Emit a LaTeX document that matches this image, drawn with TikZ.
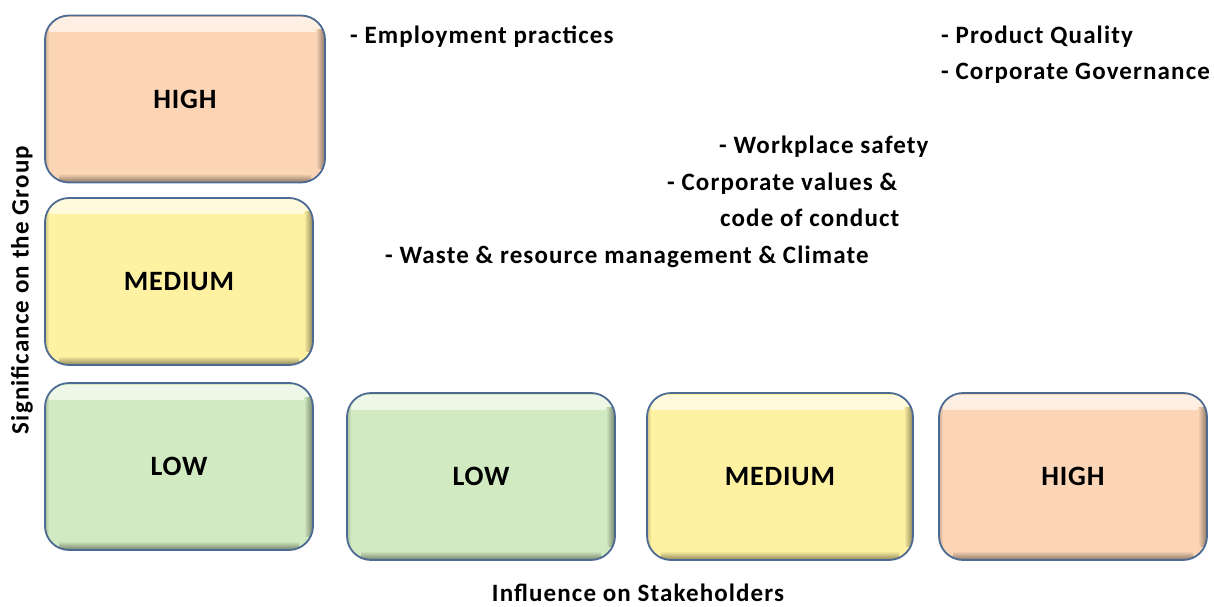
\documentclass[tikz,border=0pt]{standalone}
\usepackage{fontspec}
\setmainfont{Carlito}
\newfontfamily\itemfont{Carlito}[LetterSpace=4.5]
\newfontfamily\labfont{Carlito}[LetterSpace=3]
\definecolor{peach}{HTML}{FBD5B5}
\definecolor{yel}{HTML}{FEF1A2}
\definecolor{grn}{HTML}{D1EAC1}
\definecolor{bordercol}{HTML}{4C6A92}
\tikzset{
  mbox/.style={draw=bordercol, line width=1.8pt, fill=#1, rounded corners=24pt,
    minimum height=167pt, inner sep=0pt,
    font=\labfont\fontsize{28}{32}\selectfont\bfseries,
    path picture={
      \shade[sharp corners, top color=#1!35!white, bottom color=#1]
        ([yshift=-2pt]path picture bounding box.north west) rectangle ([yshift=-16pt]path picture bounding box.north east);
      \shade[sharp corners, left color=#1, right color=#1!55!black]
        ([xshift=-9pt,yshift=-14pt]path picture bounding box.north east) rectangle ([yshift=14pt]path picture bounding box.south east);
      \shade[sharp corners, top color=#1, bottom color=#1!55!black]
        ([yshift=9pt,xshift=14pt]path picture bounding box.south west) rectangle ([xshift=-14pt]path picture bounding box.south east);
      \shade[sharp corners, right color=#1, left color=#1!80!black]
        ([xshift=4pt,yshift=-14pt]path picture bounding box.north west) rectangle ([yshift=14pt]path picture bounding box.south west);
    }},
  item/.style={anchor=base west, inner sep=0pt, font=\itemfont\fontsize{25}{29}\selectfont\bfseries},
  axis/.style={inner sep=0pt, font=\itemfont\fontsize{25}{29}\selectfont\bfseries}
}
\begin{document}
\begin{tikzpicture}[x=1pt,y=1pt]
\useasboundingbox (0,0) rectangle (1214,606);
% left column
\node[mbox=peach, minimum width=280pt] (lh) at (185,507) {HIGH};
\node[mbox=yel, minimum width=268pt] (lm) at (179,324.5) {MEDIUM};
\node[mbox=grn, minimum width=268pt] (ll) at (179,139.5) {LOW};
% bottom row
\node[mbox=grn, minimum width=268pt] (bl) at (481,129.5) {LOW};
\node[mbox=yel, minimum width=266pt] (bm) at (780,129.5) {MEDIUM};
\node[mbox=peach, minimum width=268pt] (bh) at (1073,129.5) {HIGH};
% axis labels
\node[axis, rotate=90] (ya) at (22,316) {Significance on the Group};
\node[axis, anchor=base] (xa) at (638,4.5) {Influence on Stakeholders};
% items
\node[item] (i1) at (350,562) {- Employment practices};
\node[item] (i2) at (941,562) {- Product Quality};
\node[item] (i3) at (941,526) {- Corporate Governance};
\node[item] (i4) at (719,452) {- Workplace safety};
\node[item] (i5) at (667,415) {- Corporate values \&};
\node[item] (i6) at (720,379) {code of conduct};
\node[item] (i7) at (385,343) {- Waste \& resource management \& Climate};
\end{tikzpicture}
\end{document}
